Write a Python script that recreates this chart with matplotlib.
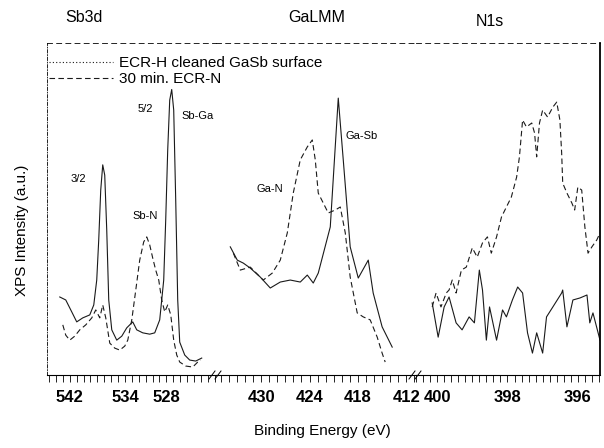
import numpy as np
import matplotlib
matplotlib.use("Agg")
import matplotlib.pyplot as plt
from matplotlib.lines import Line2D
from matplotlib.ticker import MultipleLocator, FixedLocator

plt.rcParams['font.family'] = ['Liberation Sans', 'DejaVu Sans']

#----------------------------------
# data (binding energy in eV, intensity in a.u.)
# Sb3d region
sb_e_h = [543.45, 542.58, 541.71, 540.99, 540.12, 539.10, 538.52, 538.09, 537.80, 537.51,
          537.22, 536.93, 536.64, 536.35, 535.91, 535.19, 534.46, 533.74, 532.87, 532.29,
          531.42, 530.41, 529.68, 528.96, 528.38, 528.09, 527.80, 527.51, 527.22, 526.93,
          526.64, 526.35, 526.06, 525.33, 524.61, 523.74, 522.87]
sb_i_h = [23.5, 22.6, 19.0, 16.0, 17.2, 18.1, 21.1, 28.6, 40.7, 55.7,
          63.3, 60.2, 43.7, 22.6, 13.6, 10.5, 11.7, 14.2, 16.0, 13.6,
          12.7, 12.3, 12.7, 16.6, 28.6, 46.7, 67.8, 82.8, 86.0, 79.8,
          52.7, 22.6, 9.9, 6.0, 4.5, 4.2, 5.1]
sb_e_n = [543.01, 542.58, 542.00, 541.28, 540.55, 539.68, 538.81, 538.23, 537.65, 537.22,
          536.78, 536.20, 535.48, 534.75, 534.03, 533.59, 533.01, 532.43, 531.86, 531.28,
          530.84, 530.41, 529.97, 529.54, 529.10, 528.67, 528.23, 527.80, 527.36, 526.93,
          526.49, 526.06, 525.19, 524.17, 523.45, 523.01]
sb_i_n = [15.1, 12.0, 10.5, 11.7, 13.6, 15.1, 17.2, 19.6, 17.2, 21.1,
          17.2, 9.6, 8.1, 7.5, 8.7, 10.5, 16.6, 25.6, 34.6, 40.1,
          41.6, 39.2, 35.2, 31.6, 28.6, 22.6, 19.0, 21.1, 18.1, 10.5,
          6.0, 3.9, 2.7, 2.4, 3.9, 4.5]

# GaLMM region
ga_e_h = [433.83, 432.96, 432.21, 431.35, 430.11, 428.87, 427.63, 426.39, 425.15, 424.28,
          423.54, 422.92, 421.43, 420.44, 419.82, 418.96, 417.96, 416.72, 416.11, 415.00,
          413.75]
ga_i_h = [38.6, 34.6, 33.7, 32.2, 29.5, 26.2, 28.0, 28.6, 28.0, 30.1,
          27.7, 30.7, 44.6, 83.4, 64.8, 38.6, 29.2, 34.6, 24.7, 14.5,
          8.4]
ga_e_n = [433.45, 432.59, 431.35, 429.74, 428.62, 427.63, 426.76, 426.02, 425.15, 424.28,
          423.66, 423.29, 422.92, 422.30, 421.68, 420.81, 420.19, 419.57, 418.96, 418.09,
          417.34, 416.48, 415.61, 415.00, 414.62]
ga_i_n = [36.7, 31.6, 32.5, 28.6, 30.7, 34.6, 42.8, 54.8, 64.8, 68.7,
          70.8, 64.8, 54.8, 51.8, 48.8, 49.7, 50.6, 42.8, 29.5, 18.7,
          17.5, 16.6, 11.4, 6.6, 3.9]

# N1s region
n_e_h = [400.14, 399.97, 399.80, 399.66, 399.46, 399.29, 399.09, 398.94, 398.80, 398.71,
         398.60, 398.51, 398.31, 398.14, 398.03, 397.86, 397.71, 397.57, 397.43, 397.29,
         397.17, 397.00, 396.89, 396.71, 396.46, 396.43, 396.31, 396.14, 395.94, 395.74,
         395.66, 395.57, 395.37]
n_i_h = [21.7, 11.4, 20.5, 23.5, 15.7, 13.6, 17.5, 15.7, 31.6, 25.6,
         10.5, 20.5, 10.5, 19.6, 17.5, 22.6, 26.5, 24.7, 12.7, 6.6,
         12.7, 6.6, 17.5, 20.5, 24.7, 25.6, 14.5, 22.6, 23.2, 24.1,
         15.7, 18.7, 10.5]
n_e_n = [400.14, 400.03, 399.89, 399.74, 399.66, 399.57, 399.46, 399.31, 399.17, 399.00,
         398.86, 398.71, 398.57, 398.46, 398.31, 398.17, 398.03, 397.89, 397.74, 397.66,
         397.57, 397.46, 397.31, 397.23, 397.17, 397.09, 397.00, 396.86, 396.71, 396.60,
         396.51, 396.46, 396.43, 396.31, 396.17, 396.09, 396.00, 395.89, 395.80, 395.71,
         395.60, 395.46, 395.37]
n_i_n = [20.5, 24.7, 20.5, 24.7, 25.6, 28.6, 24.7, 31.6, 32.5, 38.3,
         35.5, 39.8, 41.6, 36.7, 41.6, 47.6, 50.6, 53.6, 59.6, 65.7,
         76.8, 74.7, 75.9, 72.9, 65.7, 75.9, 79.8, 77.7, 80.7, 82.2,
         76.8, 66.9, 57.8, 54.8, 51.8, 49.7, 56.6, 55.7, 44.6, 36.7,
         38.6, 40.7, 42.8]

panels = [
    dict(title="Sb3d", eh=sb_e_h, ih=sb_i_h, en=sb_e_n, inn=sb_i_n,
         xlim=(545.3, 520.8), major=[542, 534, 528], minor=1.0),
    dict(title="GaLMM", eh=ga_e_h, ih=ga_i_h, en=ga_e_n, inn=ga_i_n,
         xlim=(435.6, 410.8), major=[430, 424, 418, 412], minor=1.0),
    dict(title="N1s", eh=n_e_h, ih=n_i_h, en=n_e_n, inn=n_i_n,
         xlim=(400.6, 395.37), major=[400, 398, 396], minor=0.2),
]

#----------------------------------
# figure: three broken-axis panels side by side
fig = plt.figure(figsize=(6.04, 4.48), dpi=100)
W, H = 604.0, 448.0
edges = [47, 216, 416, 600]
bottom = 1 - 375 / H
height = (375 - 43) / H

axes = []
for k, p in enumerate(panels):
    ax = fig.add_axes([edges[k] / W, bottom, (edges[k + 1] - edges[k]) / W, height])
    ax.patch.set_alpha(0)
    ax.plot(p["eh"], p["ih"], color="#1a1a1a", lw=0.8, ls="-")
    ax.plot(p["en"], p["inn"], color="#1a1a1a", lw=0.8, ls=(0, (5, 3)))
    ax.set_xlim(*p["xlim"])
    ax.set_ylim(0, 100)
    ax.set_yticks([])
    ax.xaxis.set_major_locator(FixedLocator(p["major"]))
    ax.xaxis.set_minor_locator(MultipleLocator(p["minor"]))
    ax.tick_params(axis="x", which="both", direction="out", length=5, width=0.6,
                   labelsize=12, pad=6)
    for lab in ax.get_xticklabels():
        lab.set_fontweight("bold")
    ax.spines["top"].set_linestyle((0, (6, 5)))
    ax.spines["top"].set_linewidth(0.6)
    ax.spines["bottom"].set_linewidth(0.8)
    ax.spines["left"].set_visible(False)
    ax.spines["right"].set_visible(False)
    axes.append(ax)

axes[0].spines["left"].set_visible(True)
axes[0].spines["left"].set_linestyle((0, (4, 2, 1, 2)))
axes[0].spines["left"].set_linewidth(0.6)
axes[2].spines["right"].set_visible(True)
axes[2].spines["right"].set_linewidth(1.3)

# peak labels
axes[0].text(540.8, 59, "3/2", fontsize=8, ha="center", va="center")
axes[0].text(531.0, 80, "5/2", fontsize=8, ha="center", va="center")
axes[0].text(523.4, 78, "Sb-Ga", fontsize=8, ha="center", va="center")
axes[0].text(531.1, 48, "Sb-N", fontsize=8, ha="center", va="center")
axes[1].text(428.9, 56, "Ga-N", fontsize=8, ha="center", va="center")
axes[1].text(417.6, 72, "Ga-Sb", fontsize=8, ha="center", va="center")

# break marks on the energy axis
yb = 1 - 375 / H
for xc in [216, 416]:
    for dx in [-4, 2]:
        fig.add_artist(Line2D([(xc + dx - 3) / W, (xc + dx + 3) / W],
                              [yb - 4 / H, yb + 4 / H], color="k", lw=0.7))

# panel titles
for p, (xt, yt) in zip(panels, [(84, 18), (317, 18), (490, 21)]):
    fig.text(xt / W, 1 - yt / H, p["title"], fontsize=11.5, ha="center", va="center")

# legend
handles = [Line2D([], [], color="#1a1a1a", lw=0.8, ls=(0, (1, 2))),
           Line2D([], [], color="#1a1a1a", lw=0.8, ls=(0, (5, 3)))]
fig.legend(handles, ["ECR-H cleaned GaSb surface", "30 min. ECR-N"],
           loc="upper left", bbox_to_anchor=(49 / W, 1 - 56 / H), frameon=False,
           fontsize=11, handlelength=4.2, handletextpad=0.4, labelspacing=0.15,
           borderaxespad=0, borderpad=0)

fig.text(22 / W, 1 - 230 / H, "XPS Intensity (a.u.)", rotation=90, fontsize=11,
         ha="center", va="center")
fig.text(322 / W, 1 - 431 / H, "Binding Energy (eV)", fontsize=11,
         ha="center", va="center")

fig.savefig("out.png", dpi=100)
